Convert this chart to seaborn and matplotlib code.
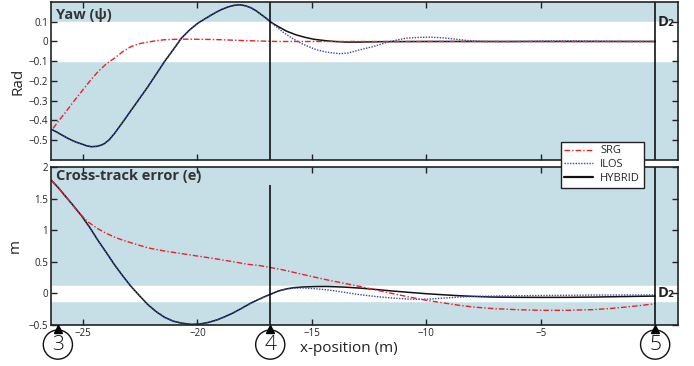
# Yaw and cross-track error along the path: SRG vs ILOS vs HYBRID
import seaborn as sns
import matplotlib.pyplot as plt
from matplotlib.lines import Line2D

# ---- data ----
# yaw, HYBRID and ILOS overlap until waypoint 4
x_yaw_common = [-26.38, -26.1, -25.8, -25.5, -25.3, -25.07, -24.85, -24.64, -24.4, -24.2, -24.05,
                -23.85, -23.62, -23.4, -23.15, -22.89, -22.6, -22.16, -21.8, -21.43, -21.05, -20.7,
                -20.35, -19.98, -19.6, -19.25, -18.95, -18.67, -18.4, -18.16, -17.9, -17.65,
                -17.43, -17.21, -17.0, -16.82]
yaw_common = [-0.445, -0.462, -0.482, -0.50, -0.51, -0.519, -0.528, -0.533, -0.531, -0.525, -0.516,
              -0.497, -0.465, -0.43, -0.39, -0.347, -0.30, -0.228, -0.165, -0.10, -0.04, 0.017,
              0.058, 0.093, 0.12, 0.144, 0.162, 0.175, 0.183, 0.186, 0.181, 0.17,
              0.155, 0.136, 0.118, 0.10]
x_yaw_hybrid = [-16.82, -16.48, -16.1, -15.7, -15.3, -14.9, -14.4, -14.0, -13.5, -13.0, -12.0,
                -10.0, -8.0, -5.0, -2.0, 0.0]
yaw_hybrid = [0.10, 0.076, 0.052, 0.034, 0.021, 0.011, 0.004, 0.0, -0.003, -0.003, -0.001,
              0.0, 0.0, 0.0, 0.0, 0.0]
x_yaw_ilos = [-16.82, -16.5, -16.2, -15.8, -15.5, -15.1, -14.8, -14.4, -14.08, -13.78, -13.4,
              -12.9, -12.3, -11.6, -10.87, -10.3, -9.85, -9.3, -8.97, -8.2, -7.5, -6.5, -5.0,
              -3.6, -2.0, 0.0]
yaw_ilos = [0.10, 0.07, 0.042, 0.012, -0.008, -0.028, -0.042, -0.053, -0.058, -0.062, -0.058,
            -0.042, -0.025, 0.0, 0.017, 0.021, 0.022, 0.019, 0.015, 0.005, 0.0, -0.001, 0.002,
            0.003, 0.001, 0.0]
x_yaw_srg = [-26.31, -26.05, -25.8, -25.45, -25.07, -24.7, -24.34, -23.98, -23.62, -23.25,
             -22.89, -22.5, -22.16, -21.8, -21.43, -20.7, -19.25, -17.8, -16.48, -14.0, -10.0,
             -5.0, 0.0]
yaw_srg = [-0.44, -0.40, -0.364, -0.31, -0.254, -0.2, -0.152, -0.113, -0.084, -0.05,
           -0.025, -0.01, -0.003, 0.004, 0.009, 0.012, 0.01, 0.004, 0.0, 0.0, 0.0,
           0.0, 0.0]

# cross-track error
x_cte_common = [-26.38, -26.31, -26.05, -25.8, -25.45, -25.07, -24.7, -24.35, -23.98, -23.62,
                -23.25, -22.89, -22.5, -22.16, -21.8, -21.43, -21.05, -20.7, -20.27, -19.9,
                -19.54, -19.15, -18.81, -18.45, -18.09, -17.7, -17.36, -17.05, -16.82]
cte_common = [1.79, 1.76, 1.66, 1.55, 1.40, 1.23, 1.04, 0.84, 0.645, 0.45,
              0.27, 0.105, -0.05, -0.18, -0.29, -0.38, -0.44, -0.47, -0.49, -0.485,
              -0.46, -0.42, -0.37, -0.31, -0.24, -0.16, -0.1, -0.05, -0.016]
x_cte_hybrid = [-16.82, -16.48, -16.1, -15.75, -15.38, -14.9, -14.36, -13.6, -12.9, -12.2,
                -11.45, -10.7, -9.99, -9.25, -8.54, -7.8, -7.08, -6.0, -4.9, -3.8, -2.72,
                -1.4, 0.0]
cte_hybrid = [-0.016, 0.036, 0.073, 0.092, 0.102, 0.108, 0.11, 0.1, 0.084, 0.062,
              0.037, 0.015, -0.005, -0.022, -0.037, -0.049, -0.058, -0.062, -0.063, -0.062,
              -0.058, -0.05, -0.042]
x_cte_ilos = [-16.82, -16.48, -16.1, -15.75, -15.38, -14.9, -14.36, -13.63, -12.9, -12.2,
              -11.45, -10.85, -10.28, -9.75, -9.27, -8.54, -7.81, -6.7, -5.63, -4.2, -2.72,
              -1.3, 0.0]
cte_ilos = [-0.016, 0.036, 0.07, 0.085, 0.085, 0.075, 0.058, 0.02, -0.02, -0.05,
            -0.074, -0.088, -0.094, -0.088, -0.074, -0.058, -0.047, -0.04, -0.036, -0.031,
            -0.026, -0.025, -0.025]
x_cte_srg = [-26.38, -26.05, -25.8, -25.5, -25.22, -24.78, -24.34, -23.98, -23.62, -23.25,
             -22.89, -22.16, -21.43, -20.7, -19.98, -19.25, -18.5, -17.8, -17.27, -16.82,
             -16.3, -15.82, -15.1, -14.36, -13.6, -12.9, -12.2, -11.45, -10.7, -9.99,
             -9.25, -8.54, -7.8, -7.08, -6.0, -4.9, -3.8, -2.72, -2.0, -1.26, -0.6, 0.0]
cte_srg = [1.79, 1.66, 1.55, 1.42, 1.29, 1.13, 1.02, 0.95, 0.89, 0.84,
           0.80, 0.72, 0.67, 0.63, 0.59, 0.55, 0.505, 0.46, 0.44, 0.41,
           0.375, 0.335, 0.275, 0.216, 0.16, 0.11, 0.055, -0.005, -0.06, -0.11,
           -0.15, -0.19, -0.22, -0.24, -0.258, -0.268, -0.267, -0.257, -0.24, -0.215, -0.19,
           -0.163]

waypoints = [-26.1, -16.82, 0.0]
waypoint_labels = ["3", "4", "5"]
x_ticks = [-25, -20, -15, -10, -5]
x_ticklabels = ["\u221225", "\u221220", "\u221215", "\u221210", "\u22125"]
yaw_ticks = [-0.5, -0.4, -0.3, -0.2, -0.1, 0, 0.1]
yaw_ticklabels = ["\u22120.5", "\u22120.4", "\u22120.3", "\u22120.2", "\u22120.1", "0", "0.1"]
cte_ticks = [-0.5, 0, 0.5, 1, 1.5, 2]
cte_ticklabels = ["\u22120.5", "0", "0.5", "1", "1.5", "2"]

band = "#c6dfe7"
c_srg, c_ilos, c_hyb = "#e8202a", "#3347a8", "#111111"
ls_srg = (0, (4, 1.5, 1, 1.5))
ls_ilos = (0, (1, 1))

sns.set_theme(style="ticks")
plt.rcParams["font.family"] = ["Open Sans", "DejaVu Sans"]
plt.rcParams["axes.edgecolor"] = "#222222"
plt.rcParams["axes.linewidth"] = 1.2

fig = plt.figure(figsize=(6.94, 3.66), dpi=100)
ax1 = fig.add_axes([0.0735, 0.563, 0.9035, 0.4315])
ax2 = fig.add_axes([0.0735, 0.112, 0.9035, 0.4317])

for ax in (ax1, ax2):
    ax.set_facecolor(band)
    ax.set_xlim(-26.4, 1.0)
    ax.set_xticks(x_ticks)
    ax.tick_params(direction="in", top=True, right=True, length=4, width=1,
                   labelsize=7, colors="#222222", pad=2)
    ax.grid(False)

# --- yaw ---
ax1.axhspan(-0.1, 0.1, color="white", zorder=0.5)
sns.lineplot(x=x_yaw_common + x_yaw_hybrid[1:], y=yaw_common + yaw_hybrid[1:], ax=ax1,
             color=c_hyb, lw=1.1, sort=False, estimator=None)
sns.lineplot(x=x_yaw_common + x_yaw_ilos[1:], y=yaw_common + yaw_ilos[1:], ax=ax1,
             color=c_ilos, lw=1.0, linestyle=ls_ilos, sort=False, estimator=None)
sns.lineplot(x=x_yaw_srg, y=yaw_srg, ax=ax1, color=c_srg, lw=1.0, linestyle=ls_srg,
             sort=False, estimator=None)
ax1.set_ylim(-0.6, 0.2)
ax1.set_yticks(yaw_ticks)
ax1.set_yticklabels(yaw_ticklabels)
ax1.tick_params(labelbottom=False)
ax1.set_xlabel("")
ax1.set_ylabel("Rad", fontsize=11, labelpad=2)
ax1.axvline(waypoints[1], color="black", lw=1.1)
ax1.axvline(waypoints[2], color="black", lw=1.1)
ax1.text(0.008, 0.965, "Yaw (\u03c8)", transform=ax1.transAxes, fontsize=10.5,
         fontweight="bold", color="#333333", ha="left", va="top")
ax1.text(0.1, 0.1, "D\u2082", fontsize=10.5, fontweight="bold", color="#222222",
         ha="left", va="center")

# --- cross-track error ---
ax2.axhspan(-0.125, 0.125, color="white", zorder=0.5)
sns.lineplot(x=x_cte_common + x_cte_hybrid[1:], y=cte_common + cte_hybrid[1:], ax=ax2,
             color=c_hyb, lw=1.1, sort=False, estimator=None)
sns.lineplot(x=x_cte_common + x_cte_ilos[1:], y=cte_common + cte_ilos[1:], ax=ax2,
             color=c_ilos, lw=1.0, linestyle=ls_ilos, sort=False, estimator=None)
sns.lineplot(x=x_cte_srg, y=cte_srg, ax=ax2, color=c_srg, lw=1.0, linestyle=ls_srg,
             sort=False, estimator=None)
ax2.set_ylim(-0.5, 2.0)
ax2.set_yticks(cte_ticks)
ax2.set_yticklabels(cte_ticklabels)
ax2.set_xticklabels(x_ticklabels)
ax2.set_xlabel("")
ax2.set_ylabel("m", fontsize=11, labelpad=4)
ax2.vlines(waypoints[1], -0.5, 1.72, color="black", lw=1.1)
ax2.axvline(waypoints[2], color="black", lw=1.1)
ax2.text(0.008, 0.985, "Cross-track error (e)", transform=ax2.transAxes, fontsize=10.5,
         fontweight="bold", color="#333333", ha="left", va="top")
ax2.text(0.1, 0.0, "D\u2082", fontsize=10.5, fontweight="bold", color="#222222",
         ha="left", va="center")

# waypoint markers below the lower axis
for xw, lab in zip(waypoints, waypoint_labels):
    ax2.plot([xw], [-0.56], marker="^", ms=6, color="black", clip_on=False, zorder=5)
    ax2.text(xw, -0.81, lab, fontsize=15, ha="center", va="center", color="#111111",
             fontweight="light",
             bbox=dict(boxstyle="circle,pad=0.22", fc="white", ec="#111111", lw=1.0),
             clip_on=False)

fig.text(300 / 694, 1 - 348 / 366, "x-position (m)", fontsize=11, ha="left", va="center",
         color="#222222")

handles = [Line2D([], [], color=c_srg, lw=1.0, linestyle=ls_srg),
           Line2D([], [], color=c_ilos, lw=1.0, linestyle=ls_ilos),
           Line2D([], [], color=c_hyb, lw=1.6)]
leg = fig.legend(handles, ["SRG", "ILOS", "HYBRID"], loc="upper left",
                 bbox_to_anchor=(555 / 694, 1 - 136 / 366), fontsize=8, frameon=True,
                 fancybox=False, edgecolor="#222222", framealpha=1, handlelength=2.6,
                 borderpad=0.35, labelspacing=0.25, handletextpad=0.6)
leg.get_frame().set_linewidth(1.0)

fig.savefig("out.png", dpi=100)
